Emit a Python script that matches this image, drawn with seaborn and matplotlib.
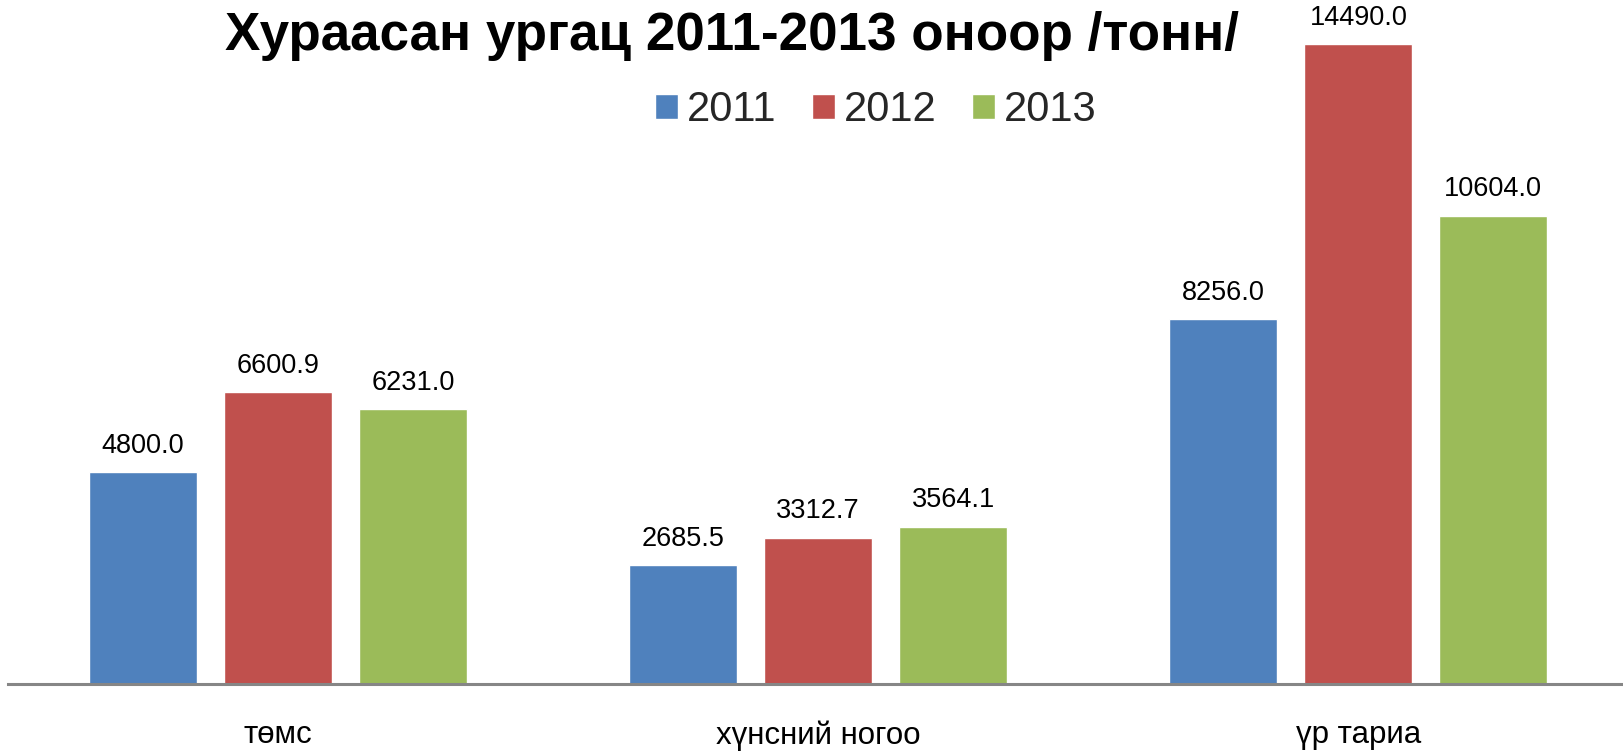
import matplotlib
matplotlib.use("Agg")
import matplotlib.pyplot as plt
import seaborn as sns
import pandas as pd

categories = ["төмс", "хүнсний ногоо", "үр тариа"]
years = ["2011", "2012", "2013"]
values_2011 = [4800.0, 2685.5, 8256.0]
values_2012 = [6600.9, 3312.7, 14490.0]
values_2013 = [6231.0, 3564.1, 10604.0]
colors = ["#4F81BD", "#C0504D", "#9BBB59"]
title = "Хураасан ургац 2011-2013 оноор /тонн/"

rows = []
for yr, vals in zip(years, [values_2011, values_2012, values_2013]):
    for c, v in zip(categories, vals):
        rows.append({"category": c, "year": yr, "value": v})
df = pd.DataFrame(rows)

sns.set_theme(style="white")
plt.rcParams["font.family"] = ["Liberation Sans", "DejaVu Sans"]

fig = plt.figure(figsize=(16.23, 7.51), dpi=100)
ax = fig.add_axes([8 / 1623, (751 - 684) / 751, 1 - 8 / 1623, 684 / 751])

sns.barplot(data=df, x="category", y="value", hue="year", order=categories,
            hue_order=years, palette=colors, width=0.75, gap=0.2,
            saturation=1, errorbar=None, ax=ax, legend=True)

for cont in ax.containers:
    ax.bar_label(cont, fmt="%.1f", padding=9.5, fontsize=19.5, color="black")

ax.set_xlim(-0.5, 2.49)
ax.set_ylim(0, 15486)
ax.set_xlabel("")
ax.set_ylabel("")
ax.set_yticks([])
ax.tick_params(axis="x", length=0, pad=26, labelsize=22.5, labelcolor="black")
for side in ["top", "right", "left"]:
    ax.spines[side].set_visible(False)
ax.spines["bottom"].set_color("#868686")
ax.spines["bottom"].set_linewidth(2.2)
ax.patch.set_alpha(0)

handles, labels = ax.get_legend_handles_labels()
ax.get_legend().remove()
fig.legend(handles, labels, loc="center", bbox_to_anchor=(876 / 1623, 1 - 110 / 751),
           ncol=3, frameon=False, fontsize=30, handlelength=0.55, handleheight=0.55,
           handletextpad=0.22, columnspacing=0.85, borderpad=0, borderaxespad=0)

fig.text(732 / 1623, 1 - 50 / 751, title, ha="center", va="baseline",
         fontsize=38.2, fontweight="bold", color="black")

fig.savefig("out.png", dpi=100)
